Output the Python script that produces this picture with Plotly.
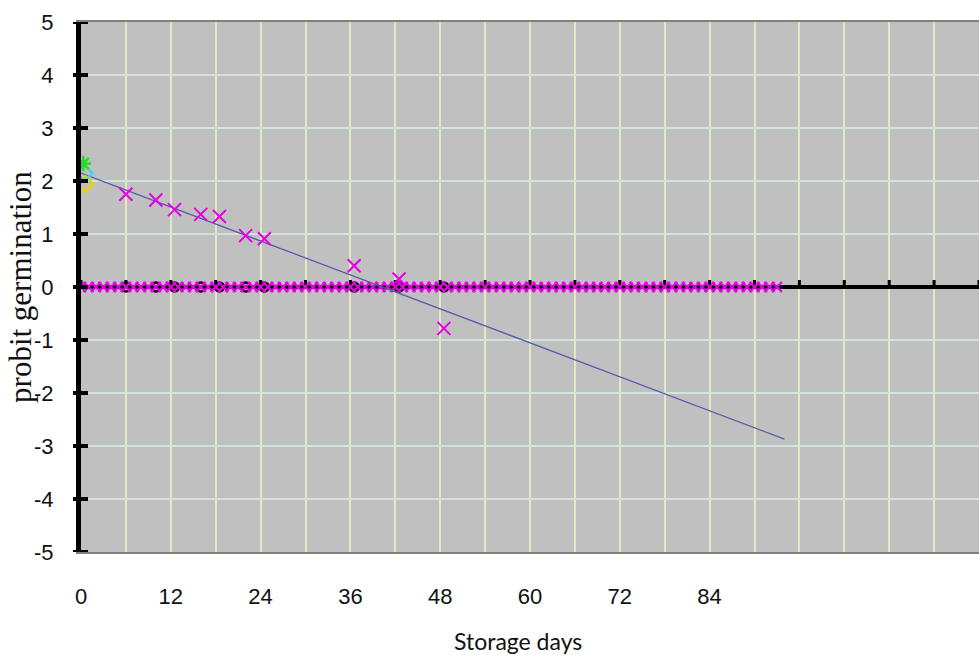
import plotly.graph_objects as go

# Germination probit vs. storage time
days = [6, 10, 12.5, 16, 18.5, 22, 24.5, 36.5, 42.5, 48.5]
probit = [1.75, 1.64, 1.46, 1.37, 1.33, 0.97, 0.91, 0.40, 0.15, -0.78]

# Initial (day 0) readings of the other lots
day0_green = [2.33]
day0_cyan = [2.15]
day0_yellow = [1.94]

# Lots with no germination (probit 0) recorded on every day
zero_days = list(range(0, 94))
zero_vals = [0] * len(zero_days)
zero_black_vals = [0] * len(days)

# Fitted regression line end points
trend_days = [0, 94]
trend_vals = [2.15, -2.87]

# Axes ticks
y_ticks = [5, 4, 3, 2, 1, 0, -1, -2, -3, -4, -5]
y_text = ["5", "4", "3", "2", "1", "0", "-1", "-2", "-3", "-4", "-5"]
x_grid = list(range(0, 121, 6))
x_text = ["0", "", "12", "", "24", "", "36", "", "48", "", "60", "", "72", "", "84",
          "", "", "", "", "", ""]

MAGENTA = "#e600e6"
TICKFONT = dict(family="Liberation Sans", size=22, color="#111")

fig = go.Figure()

fig.add_trace(go.Scatter(
    x=days, y=zero_black_vals, mode="markers",
    marker=dict(symbol="circle-open", size=9, color="black", line=dict(width=2.5, color="black")),
    showlegend=False, hoverinfo="skip"))

fig.add_trace(go.Scatter(
    x=zero_days, y=zero_vals, mode="markers",
    marker=dict(symbol="x-thin", size=10, line=dict(width=2.2, color=MAGENTA)),
    showlegend=False))

fig.add_trace(go.Scatter(
    x=trend_days, y=trend_vals, mode="lines",
    line=dict(color="#5a5aaa", width=1.3), showlegend=False))

fig.add_trace(go.Scatter(
    x=days, y=probit, mode="markers",
    marker=dict(symbol="x-thin", size=13, line=dict(width=2, color=MAGENTA)),
    showlegend=False))

fig.add_trace(go.Scatter(
    x=[0.6], y=day0_yellow, mode="markers",
    marker=dict(symbol="diamond-open", size=12, color="#e8d400", line=dict(width=2.5)),
    showlegend=False))
fig.add_trace(go.Scatter(
    x=[0.5], y=day0_cyan, mode="markers",
    marker=dict(symbol="diamond-open", size=12, color="#3fd6ea", line=dict(width=2.5)),
    showlegend=False))
fig.add_trace(go.Scatter(
    x=[0.3], y=day0_green, mode="markers",
    marker=dict(symbol="asterisk-open", size=13, color="#22dd22", line=dict(width=2.5)),
    showlegend=False))

# Tick marks crossing the vertical axis
shapes = []
for v in y_ticks:
    shapes.append(dict(type="line", xref="paper", yref="y", xsizemode="pixel", xanchor=0,
                       x0=-8, x1=7, y0=v, y1=v, line=dict(color="black", width=4), layer="above"))
# Tick marks standing on the zero line
for v in x_grid:
    shapes.append(dict(type="line", xref="x", yref="y", ysizemode="pixel", yanchor=0,
                       x0=v, x1=v, y0=0, y1=7, line=dict(color="black", width=3), layer="between"))

fig.update_layout(
    width=979, height=657,
    margin=dict(l=81, r=0, t=22, b=105),
    paper_bgcolor="white", plot_bgcolor="#c0c0c0",
    shapes=shapes,
    xaxis=dict(range=[0, 120], tickmode="array", tickvals=x_grid, ticktext=x_text,
               showgrid=True, gridcolor="#e6e6c2", gridwidth=1.5, zeroline=False,
               showline=True, linecolor="#808080", linewidth=2, mirror=True,
               ticks="", ticklabelstandoff=24, tickfont=TICKFONT),
    yaxis=dict(range=[-5, 5], tickmode="array", tickvals=y_ticks, ticktext=y_text,
               showgrid=True, gridcolor="#cfe5da", gridwidth=2,
               zeroline=True, zerolinecolor="black", zerolinewidth=4,
               showline=True, linecolor="black", linewidth=5, layer="below traces",
               ticks="", ticklabelstandoff=18, tickfont=TICKFONT),
    annotations=[
        dict(text="Storage days", xref="paper", yref="paper", x=(518 - 81) / 898, y=-0.1604 - 0.007,
             yanchor="middle", showarrow=False,
             font=dict(family="Lato", size=23, color="#111")),
        dict(text="probit germination", xref="paper", yref="paper", x=-0.068, y=0.5,
             textangle=-90, xanchor="center", yanchor="middle", showarrow=False,
             font=dict(family="Liberation Serif", size=31, color="#111")),
    ],
)

fig.write_html("out.html")
